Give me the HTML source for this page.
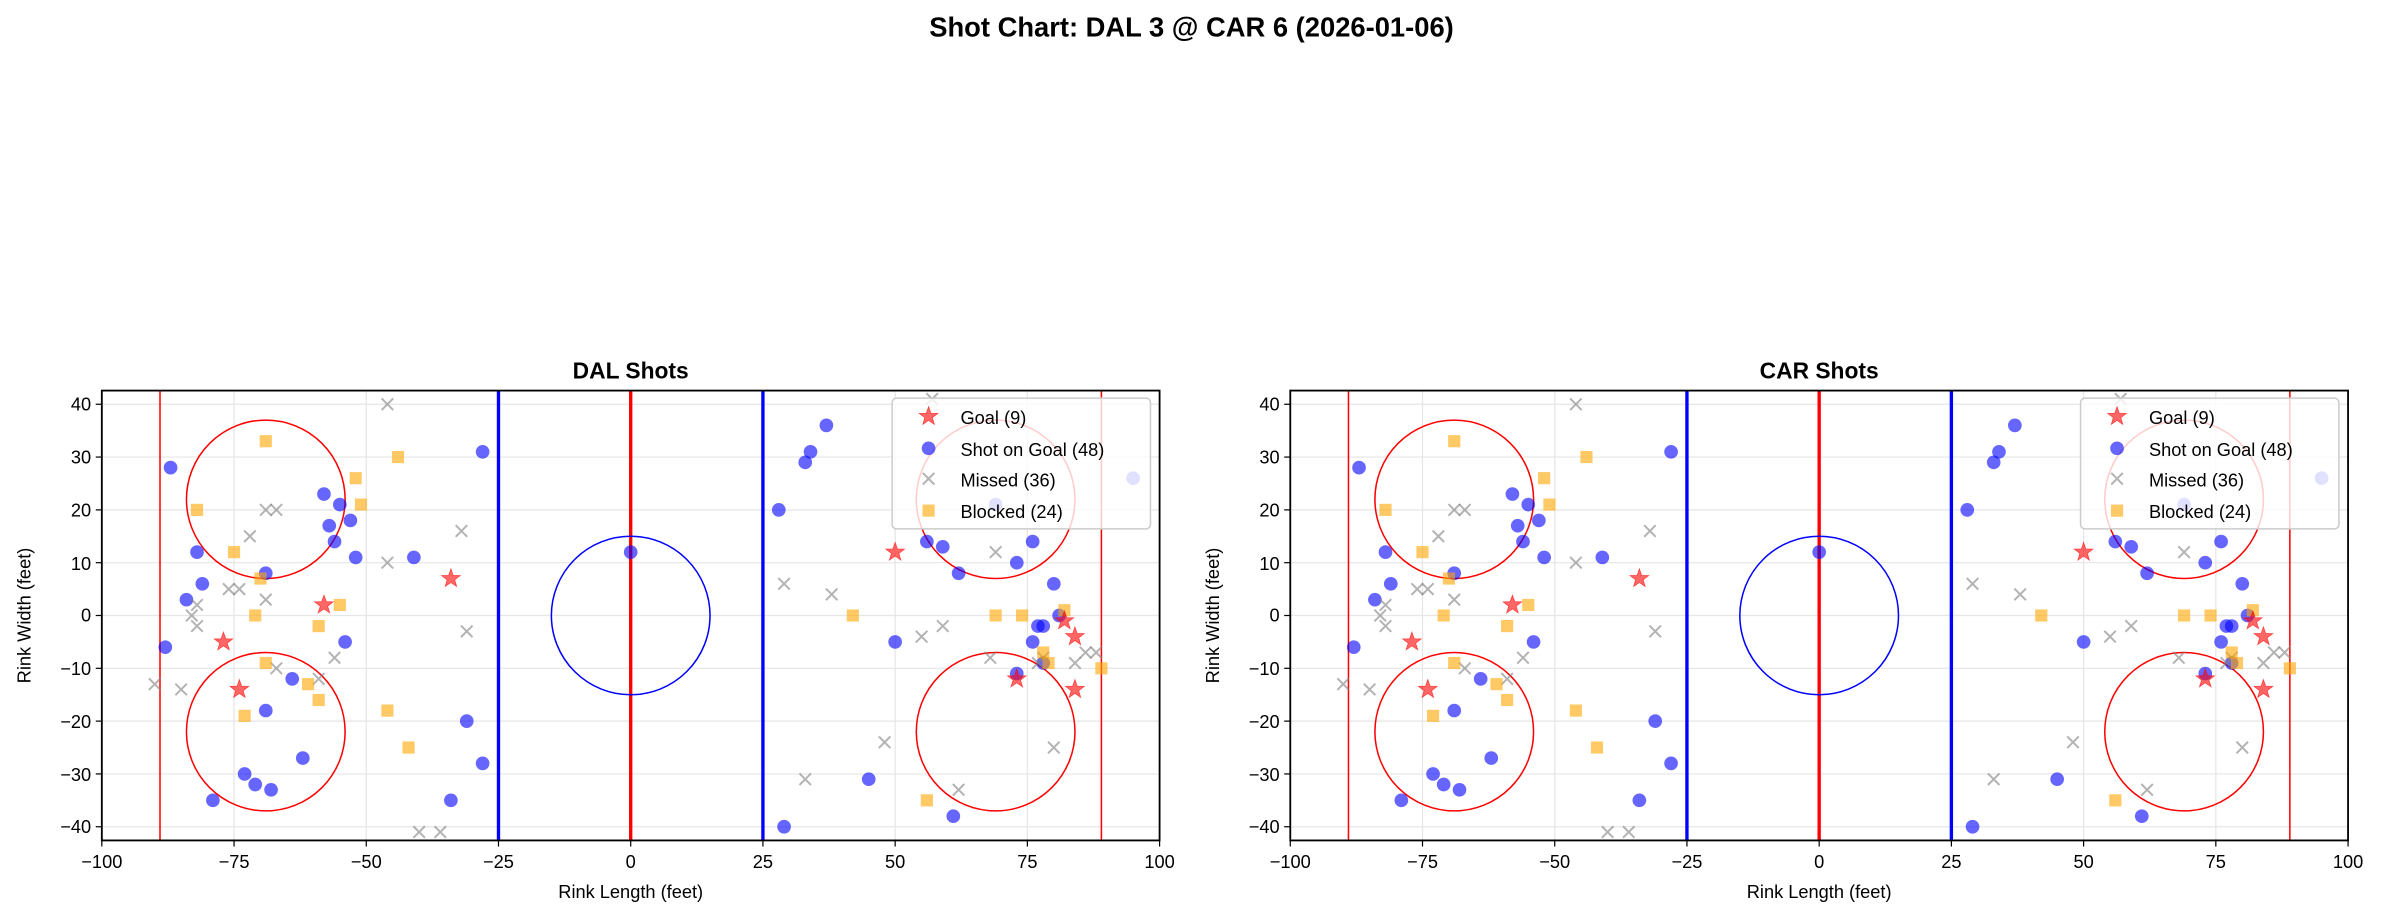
<!DOCTYPE html>
<html><head><meta charset="utf-8"><style>
body{margin:0;background:#fff;}
svg{display:block;font-family:"Liberation Sans","DejaVu Sans",sans-serif;}
</style></head><body>
<svg id="s" width="2383" height="919" viewBox="0 0 1568 604.7" preserveAspectRatio="none" xmlns="http://www.w3.org/2000/svg">
<rect width="1568" height="605" fill="#fff"/>
<text x="784" y="24" font-size="18" font-weight="bold" text-anchor="middle">Shot Chart: DAL 3 @ CAR 6 (2026-01-06)</text>
<g id="p0"></g><g id="p1"></g>
<g font-size="12" text-anchor="middle">
<text x="415" y="249" font-size="15" font-weight="bold">DAL Shots</text>
<text x="1197" y="249" font-size="15" font-weight="bold">CAR Shots</text>
<text x="67" y="571">−100</text><text x="154" y="571">−75</text><text x="241" y="571">−50</text><text x="328" y="571">−25</text><text x="415" y="571">0</text><text x="502" y="571">25</text><text x="589" y="571">50</text><text x="676" y="571">75</text><text x="763" y="571">100</text>
<text x="849" y="571">−100</text><text x="936" y="571">−75</text><text x="1023" y="571">−50</text><text x="1110" y="571">−25</text><text x="1197" y="571">0</text><text x="1284" y="571">25</text><text x="1371" y="571">50</text><text x="1458" y="571">75</text><text x="1545" y="571">100</text>
<text x="415" y="591">Rink Length (feet)</text>
<text x="1197" y="591">Rink Length (feet)</text>
<text transform="translate(20,405) rotate(-90)">Rink Width (feet)</text>
<text transform="translate(802,405) rotate(-90)">Rink Width (feet)</text>
</g>
<g font-size="12" text-anchor="end">
<text x="60" y="270">40</text><text x="60" y="305">30</text><text x="60" y="340">20</text><text x="60" y="375">10</text><text x="60" y="409">0</text><text x="60" y="444">−10</text><text x="60" y="479">−20</text><text x="60" y="514">−30</text><text x="60" y="548">−40</text>
<text x="842" y="270">40</text><text x="842" y="305">30</text><text x="842" y="340">20</text><text x="842" y="375">10</text><text x="842" y="409">0</text><text x="842" y="444">−10</text><text x="842" y="479">−20</text><text x="842" y="514">−30</text><text x="842" y="548">−40</text>
</g>
<g font-size="12">
<text x="632" y="279">Goal (9)</text><text x="632" y="300">Shot on Goal (48)</text><text x="632" y="320">Missed (36)</text><text x="632" y="341">Blocked (24)</text>
<text x="1414" y="279">Goal (9)</text><text x="1414" y="300">Shot on Goal (48)</text><text x="1414" y="320">Missed (36)</text><text x="1414" y="341">Blocked (24)</text>
</g>
</svg>
<script>
var G=[[-34,7],[-58,2],[-77,-5],[-74,-14],[50,12],[73,-12],[82,-1],[84,-4],[84,-14]];
var S=[[-87,28],[-82,12],[-81,6],[-84,3],[-88,-6],[-69,8],[-58,23],[-57,17],[-56,14],[-55,21],[-53,18],[-52,11],[-41,11],[-28,31],[-54,-5],[-69,-18],[-64,-12],[-62,-27],[-73,-30],[-71,-32],[-68,-33],[-79,-35],[-31,-20],[-28,-28],[-34,-35],[0,12],[28,20],[33,29],[34,31],[37,36],[50,-5],[56,14],[59,13],[62,8],[69,21],[73,10],[76,14],[76,-5],[77,-2],[78,-2],[78,-9],[80,6],[81,0],[73,-11],[45,-31],[61,-38],[29,-40],[95,26]];
var M=[[-46,40],[-32,16],[-31,-3],[-46,10],[-56,-8],[-72,15],[-69,20],[-67,20],[-76,5],[-74,5],[-82,2],[-82,-2],[-83,0],[-85,-14],[-90,-13],[-69,3],[-67,-10],[-59,-12],[-40,-41],[-36,-41],[29,6],[38,4],[33,-31],[48,-24],[55,-4],[59,-2],[57,41],[62,-33],[69,12],[68,-8],[80,-25],[84,-9],[86,-7],[88,-7],[77,-9],[78,-8]];
var B=[[-69,33],[-82,20],[-52,26],[-51,21],[-44,30],[-75,12],[-70,7],[-71,0],[-55,2],[-59,-2],[-69,-9],[-61,-13],[-59,-16],[-73,-19],[-46,-18],[-42,-25],[42,0],[56,-35],[69,0],[74,0],[78,-7],[79,-9],[82,1],[89,-10]];
function star(cx,cy,R){var r=R*0.4,p=[];for(var i=0;i<10;i++){var a=-Math.PI/2+i*Math.PI/5,rr=i%2?r:R;p.push((cx+rr*Math.cos(a)).toFixed(1)+","+(cy+rr*Math.sin(a)).toFixed(1));}return '<polygon points="'+p.join(" ")+'" fill="red" fill-opacity="0.6" stroke="red" stroke-opacity="0.6" stroke-width="0.5"/>';}
function xm(cx,cy,s){return '<path d="M'+(cx-s)+' '+(cy-s)+'L'+(cx+s)+' '+(cy+s)+'M'+(cx-s)+' '+(cy+s)+'L'+(cx+s)+' '+(cy-s)+'" stroke="gray" stroke-opacity="0.6" stroke-width="1.3"/>';}
function panel(id,L){
 var R=L+696,T=257,Bt=553,sx=3.48,sy=3.475,x0=L+348,y0=405;
 function X(v){return x0+v*sx}function Y(v){return y0-v*sy}
 var h='';
 for(var v=-100;v<=100;v+=25)h+='<line x1="'+X(v)+'" y1="'+T+'" x2="'+X(v)+'" y2="'+Bt+'" stroke="#e6e6e6" stroke-width="0.8"/>';
 for(var v=-40;v<=40;v+=10)h+='<line x1="'+L+'" y1="'+Y(v)+'" x2="'+R+'" y2="'+Y(v)+'" stroke="#e6e6e6" stroke-width="0.8"/>';
 h+='<line x1="'+X(-89)+'" y1="'+T+'" x2="'+X(-89)+'" y2="'+Bt+'" stroke="red" stroke-width="1"/>';
 h+='<line x1="'+X(89)+'" y1="'+T+'" x2="'+X(89)+'" y2="'+Bt+'" stroke="red" stroke-width="1"/>';
 h+='<line x1="'+X(-25)+'" y1="'+T+'" x2="'+X(-25)+'" y2="'+Bt+'" stroke="blue" stroke-width="2.2"/>';
 h+='<line x1="'+X(25)+'" y1="'+T+'" x2="'+X(25)+'" y2="'+Bt+'" stroke="blue" stroke-width="2.2"/>';
 h+='<line x1="'+X(0)+'" y1="'+T+'" x2="'+X(0)+'" y2="'+Bt+'" stroke="red" stroke-width="2.2"/>';
 h+='<ellipse cx="'+X(0)+'" cy="'+Y(0)+'" rx="'+15*sx+'" ry="'+15*sy+'" fill="none" stroke="blue" stroke-width="1"/>';
 [[-69,22],[-69,-22],[69,22],[69,-22]].forEach(function(c){h+='<ellipse cx="'+X(c[0])+'" cy="'+Y(c[1])+'" rx="'+15*sx+'" ry="'+15*sy+'" fill="none" stroke="red" stroke-width="1"/>';});
 S.forEach(function(p){h+='<circle cx="'+X(p[0])+'" cy="'+Y(p[1])+'" r="4.5" fill="blue" fill-opacity="0.6"/>';});
 M.forEach(function(p){h+=xm(X(p[0]),Y(p[1]),3.8);});
 B.forEach(function(p){h+='<rect x="'+(X(p[0])-4)+'" y="'+(Y(p[1])-4)+'" width="8" height="8" fill="orange" fill-opacity="0.6"/>';});
 G.forEach(function(p){h+=star(X(p[0]),Y(p[1]),6.5);});
 var lx=L+520;
 h+='<rect x="'+lx+'" y="262" width="170" height="86" rx="3" fill="#fff" fill-opacity="0.8" stroke="#ccc"/>';
 h+=star(lx+24,274,6.5);
 h+='<circle cx="'+(lx+24)+'" cy="295" r="4.5" fill="blue" fill-opacity="0.6"/>';
 h+=xm(lx+24,315,3.8);
 h+='<rect x="'+(lx+20)+'" y="332" width="8" height="8" fill="orange" fill-opacity="0.6"/>';
 h+='<rect x="'+L+'" y="'+T+'" width="696" height="'+(Bt-T)+'" fill="none" stroke="#000" stroke-width="1.2"/>';
 for(var v=-100;v<=100;v+=25)h+='<line x1="'+X(v)+'" y1="'+Bt+'" x2="'+X(v)+'" y2="'+(Bt+4)+'" stroke="#000" stroke-width="0.8"/>';
 for(var v=-40;v<=40;v+=10)h+='<line x1="'+(L-4)+'" y1="'+Y(v)+'" x2="'+L+'" y2="'+Y(v)+'" stroke="#000" stroke-width="0.8"/>';
 document.getElementById(id).innerHTML=h;
}
panel("p0",67);panel("p1",849);
</script>
</body></html>
